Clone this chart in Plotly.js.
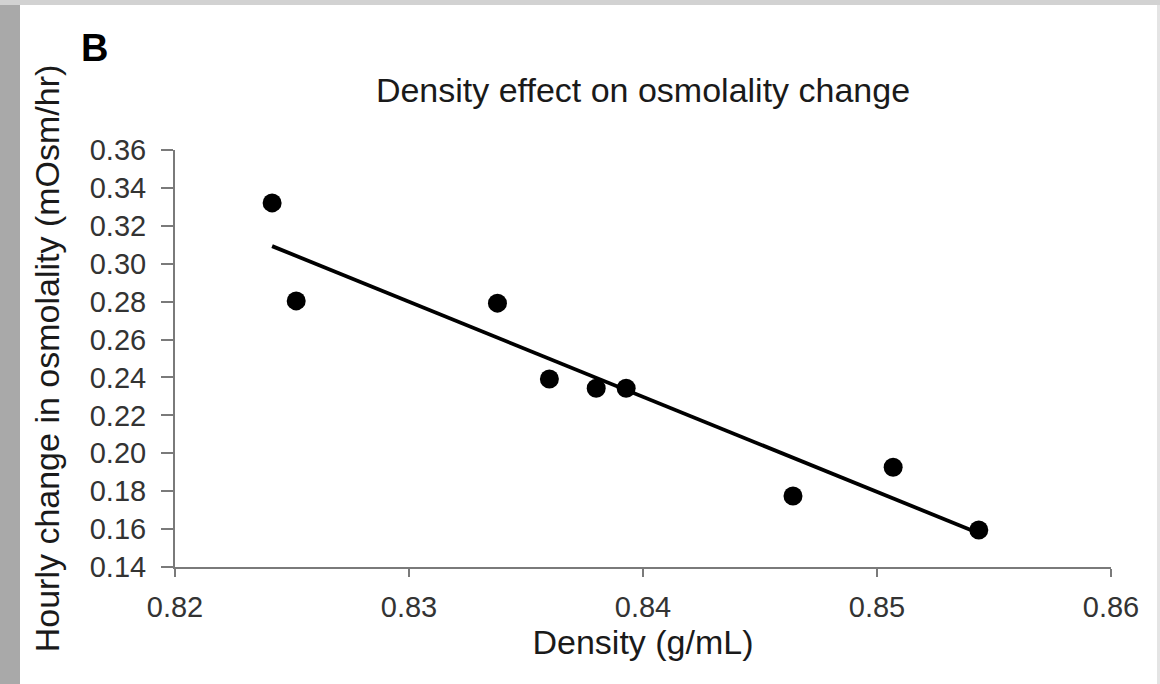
<!DOCTYPE html>
<html>
<head>
<meta charset="utf-8">
<script src="https://cdn.plot.ly/plotly-3.0.1.min.js"></script>
<style>
  html, body { margin: 0; padding: 0; width: 1160px; height: 684px; overflow: hidden; background: #a9a9a9; }
  #topstrip { position: absolute; left: 0; top: 0; width: 1160px; height: 5px; background: #d2d2d2; }
  #panel { position: absolute; left: 20px; top: 5px; width: 1137px; height: 679px; background: #ffffff; }
  #rightedge { position: absolute; left: 1157px; top: 5px; width: 3px; height: 679px; background: #e4e4e4; }
  #chart { position: absolute; left: 0; top: 0; width: 1160px; height: 684px; }
</style>
</head>
<body>
<div id="topstrip"></div>
<div id="panel"></div>
<div id="rightedge"></div>
<div id="chart"></div>
<script>
// Data
const density = [0.82415, 0.82518, 0.83378, 0.83600, 0.83800, 0.83928, 0.84641, 0.85069, 0.85435];
const osmChange = [0.3321, 0.2804, 0.2792, 0.2392, 0.2343, 0.2343, 0.1775, 0.1926, 0.1595];
const xTickVals = [0.82, 0.83, 0.84, 0.85, 0.86];
const xTickText = ["0.82", "0.83", "0.84", "0.85", "0.86"];
const yTickVals = [0.14, 0.16, 0.18, 0.20, 0.22, 0.24, 0.26, 0.28, 0.30, 0.32, 0.34, 0.36];
const yTickText = ["0.14", "0.16", "0.18", "0.20", "0.22", "0.24", "0.26", "0.28", "0.30", "0.32", "0.34", "0.36"];
const chartTitle = "Density effect on osmolality change";
const xTitle = "Density (g/mL)";
const yTitle = "Hourly change in osmolality (mOsm/hr)";
const panelLabel = "B";

// Least-squares linear trend line
const n = density.length;
const mx = density.reduce((a, b) => a + b, 0) / n;
const my = osmChange.reduce((a, b) => a + b, 0) / n;
let sxy = 0, sxx = 0;
for (let i = 0; i < n; i++) { sxy += (density[i] - mx) * (osmChange[i] - my); sxx += (density[i] - mx) ** 2; }
const slope = sxy / sxx;
const intercept = my - slope * mx;
const xMin = Math.min(...density), xMax = Math.max(...density);
const trendX = [xMin, xMax];
const trendY = trendX.map(x => intercept + slope * x);

const FONT = "Liberation Sans, Arial, sans-serif";

const traces = [
  {
    x: trendX, y: trendY, mode: "lines", type: "scatter",
    line: { color: "#000000", width: 3.8 }, hoverinfo: "skip", showlegend: false
  },
  {
    x: density, y: osmChange, mode: "markers", type: "scatter",
    marker: { color: "#000000", size: 19 }, showlegend: false
  }
];

const layout = {
  width: 1160, height: 684,
  paper_bgcolor: "rgba(0,0,0,0)",
  plot_bgcolor: "rgba(0,0,0,0)",
  margin: { l: 175, r: 49, t: 150, b: 117, pad: 0 },
  showlegend: false,
  font: { family: FONT, color: "#222222" },
  title: {
    text: chartTitle, font: { family: FONT, size: 34, color: "#1a1a1a" },
    x: 0.5, xref: "paper", xanchor: "center",
    y: 1 - 90 / 684, yref: "container", yanchor: "middle"
  },
  xaxis: {
    range: [0.82, 0.86], tickmode: "array", tickvals: xTickVals, ticktext: xTickText,
    showgrid: false, zeroline: false, showline: true, linecolor: "#7a7a7a", linewidth: 2,
    ticks: "outside", ticklen: 8, tickwidth: 2, tickcolor: "#7a7a7a",
    ticklabelstandoff: 5,
    tickfont: { family: FONT, size: 29, color: "#333333" },
    title: { text: xTitle, font: { family: FONT, size: 34, color: "#1a1a1a" }, standoff: 4 }
  },
  yaxis: {
    range: [0.14, 0.36], tickmode: "array", tickvals: yTickVals, ticktext: yTickText,
    showgrid: false, zeroline: false, showline: true, linecolor: "#7a7a7a", linewidth: 2,
    ticks: "outside", ticklen: 12, tickwidth: 2, tickcolor: "#7a7a7a",
    ticklabelstandoff: 9,
    tickfont: { family: FONT, size: 29, color: "#333333" },
    title: { text: yTitle, font: { family: FONT, size: 34, color: "#1a1a1a" }, standoff: 20 }
  },
  annotations: [
    {
      text: "<b>" + panelLabel + "</b>", xref: "paper", yref: "paper",
      x: (94 - 175) / 936, y: 1 + (150 - 48) / 417, xanchor: "center", yanchor: "middle",
      showarrow: false, font: { family: FONT, size: 38, color: "#000000" }
    }
  ]
};

Plotly.newPlot("chart", traces, layout, { displayModeBar: false, staticPlot: true });
</script>
</body>
</html>
